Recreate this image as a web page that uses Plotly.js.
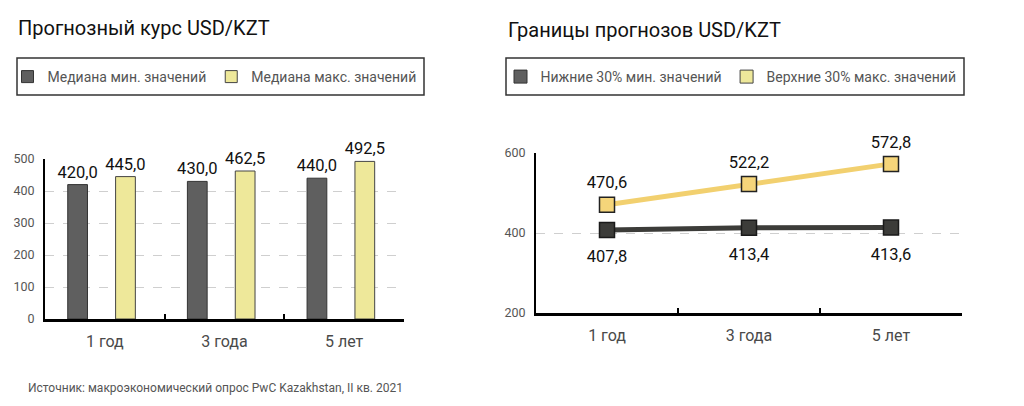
<!DOCTYPE html>
<html>
<head>
<meta charset="utf-8">
<script src="https://cdn.plot.ly/plotly-3.0.1.min.js"></script>
<style>html,body{margin:0;padding:0;background:#fff}#chart{width:1024px;height:406px}</style>
</head>
<body>
<div id="chart"></div>
<script>
// ---- data ----
const categories = ["1 год", "3 года", "5 лет"];
const medianMin = [420.0, 430.0, 440.0];
const medianMax = [445.0, 462.5, 492.5];
const lower30Min = [407.8, 413.4, 413.6];
const upper30Max = [470.6, 522.2, 572.8];
const seriesNames = ["Медиана мин. значений", "Медиана макс. значений", "Нижние 30% мин. значений", "Верхние 30% макс. значений"];
const titleLeft = "Прогнозный курс USD/KZT";
const titleRight = "Границы прогнозов USD/KZT";
const sourceText = "Источник: макроэкономический опрос PwC Kazakhstan, II кв. 2021";

const FONT = "Roboto, 'Open Sans', sans-serif";
const W = 1024, H = 406;
const px = v => v / W;
const py = v => (H - v) / H;

const darkBar = "#5f5f5f", yellowBar = "#eee89a";
const darkLine = "#3c3c39", yellowLine = "#f2d06f", yellowMarker = "#f5d57a";
const labelFont = {family: FONT, size: 16.5, color: "#111"};

const traces = [
  {type: "bar", x: categories, y: medianMin, name: seriesNames[0], xaxis: "x", yaxis: "y",
   offset: -0.31, width: 0.165,
   marker: {color: darkBar, line: {color: "#333", width: 1}},
   texttemplate: "%{y:.1f}", textposition: "outside", textfont: labelFont, cliponaxis: false,
   constraintext: "none", legend: "legend", hoverinfo: "skip"},
  {type: "bar", x: categories, y: medianMax, name: seriesNames[1], xaxis: "x", yaxis: "y",
   offset: 0.09, width: 0.165,
   marker: {color: yellowBar, line: {color: "#444", width: 1}},
   texttemplate: "%{y:.1f}", textposition: "outside", textfont: labelFont, cliponaxis: false,
   constraintext: "none", legend: "legend", hoverinfo: "skip"},
  // lines with markers
  {type: "scatter", mode: "lines+markers", x: categories, y: lower30Min, xaxis: "x2", yaxis: "y2",
   line: {color: darkLine, width: 5},
   marker: {symbol: "square", size: 15, color: darkLine, line: {color: "#1a1a1a", width: 1.5}},
   cliponaxis: false, showlegend: false, hoverinfo: "skip"},
  {type: "scatter", mode: "lines+markers", x: categories, y: upper30Max, xaxis: "x2", yaxis: "y2",
   line: {color: yellowLine, width: 5},
   marker: {symbol: "square", size: 15, color: yellowMarker, line: {color: "#222", width: 1.5}},
   cliponaxis: false, showlegend: false, hoverinfo: "skip"},
  // value labels for the lines (transparent markers only set the label spacing)
  {type: "scatter", mode: "markers+text", x: categories, y: lower30Min, xaxis: "x2", yaxis: "y2",
   marker: {size: 30, color: "rgba(0,0,0,0)"},
   texttemplate: "%{y:.1f}", textposition: "bottom center", textfont: labelFont, cliponaxis: false,
   showlegend: false, hoverinfo: "skip"},
  {type: "scatter", mode: "markers+text", x: categories, y: upper30Max, xaxis: "x2", yaxis: "y2",
   marker: {size: 18, color: "rgba(0,0,0,0)"},
   texttemplate: "%{y:.1f}", textposition: "top center", textfont: labelFont, cliponaxis: false,
   showlegend: false, hoverinfo: "skip"},
  // legend entries for the line chart (no data of their own)
  {type: "scatter", mode: "markers", x: [null], y: [null], xaxis: "x2", yaxis: "y2", name: seriesNames[2],
   marker: {symbol: "square", size: 13, color: darkBar, line: {color: "#333", width: 1}},
   legend: "legend2", showlegend: true, hoverinfo: "skip"},
  {type: "scatter", mode: "markers", x: [null], y: [null], xaxis: "x2", yaxis: "y2", name: seriesNames[3],
   marker: {symbol: "square", size: 13, color: yellowBar, line: {color: "#444", width: 1}},
   legend: "legend2", showlegend: true, hoverinfo: "skip"}
];

const xCommon = {
  type: "category", range: [-0.5, 2.5], showline: true, linecolor: "#000", linewidth: 2.5,
  ticks: "inside", tickson: "boundaries", ticklen: 5, tickwidth: 2, tickcolor: "#000",
  showgrid: false, zeroline: false, fixedrange: true, ticklabelstandoff: 6,
  tickfont: {family: FONT, size: 16, color: "#4a4a4a"}
};
const yCommon = {
  showline: true, linecolor: "#000", linewidth: 2, ticks: "", zeroline: false,
  showgrid: true, gridcolor: "#cfcfcf", griddash: "dash", gridwidth: 1, fixedrange: true,
  tickfont: {family: FONT, size: 12.5, color: "#555"}, ticklabelstandoff: 6
};
const legendCommon = {
  orientation: "h", xanchor: "left", yanchor: "top",
  borderwidth: 0, bgcolor: "rgba(0,0,0,0)",
  font: {family: FONT, size: 14, color: "#555"}
};

const layout = {
  width: W, height: H, margin: {l: 0, r: 0, t: 0, b: 0},
  paper_bgcolor: "#fff", plot_bgcolor: "rgba(0,0,0,0)",
  separators: ", ", barmode: "overlay", showlegend: true,
  xaxis: Object.assign({}, xCommon, {domain: [px(45), px(404)], anchor: "y"}),
  yaxis: Object.assign({}, yCommon, {domain: [py(319), py(159)], range: [0, 500], tickvals: [0, 100, 200, 300, 400, 500], anchor: "x"}),
  xaxis2: Object.assign({}, xCommon, {domain: [px(536), px(962)], anchor: "y2"}),
  yaxis2: Object.assign({}, yCommon, {domain: [py(313), py(153)], range: [200, 600], tickvals: [200, 400, 600], anchor: "x2"}),
  legend: Object.assign({}, legendCommon, {x: px(7.5), y: py(61)}),
  legend2: Object.assign({}, legendCommon, {x: px(500.5), y: py(61)}),
  shapes: [
    {type: "rect", xref: "paper", yref: "paper", x0: px(17), x1: px(424), y0: py(95), y1: py(58),
     line: {color: "#333", width: 1.5}, fillcolor: "rgba(0,0,0,0)", layer: "below"},
    {type: "rect", xref: "paper", yref: "paper", x0: px(506), x1: px(964), y0: py(95), y1: py(58),
     line: {color: "#333", width: 1.5}, fillcolor: "rgba(0,0,0,0)", layer: "below"}
  ],
  annotations: [
    {text: titleLeft, xref: "paper", yref: "paper", x: px(16), y: py(28), xanchor: "left", yanchor: "middle",
     showarrow: false, font: {family: FONT, size: 20, color: "#111"}},
    {text: titleRight, xref: "paper", yref: "paper", x: px(506), y: py(30), xanchor: "left", yanchor: "middle",
     showarrow: false, font: {family: FONT, size: 20, color: "#111"}},
    {text: sourceText, xref: "paper", yref: "paper", x: px(26), y: py(388), xanchor: "left", yanchor: "middle",
     showarrow: false, font: {family: FONT, size: 12, color: "#555"}}
  ]
};

Plotly.newPlot("chart", traces, layout, {staticPlot: true, displayModeBar: false});
</script>
</body>
</html>
